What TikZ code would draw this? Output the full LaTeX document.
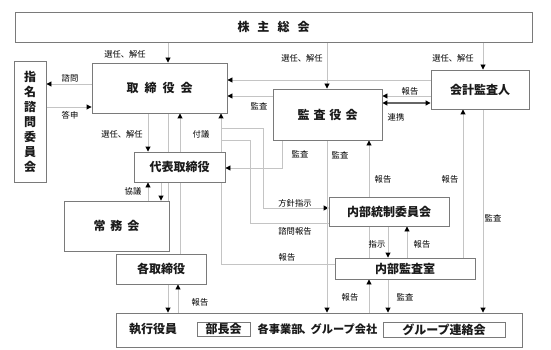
\documentclass[tikz,border=0pt]{standalone}
\usepackage{fontspec}
\setmainfont{Noto Sans CJK JP}
\usetikzlibrary{arrows.meta}
\pgfdeclarelayer{bg}
\pgfsetlayers{bg,main}
\definecolor{lncol}{HTML}{C4C4C4}
\definecolor{bdcol}{HTML}{7A7A7A}
\definecolor{txcol}{HTML}{1A1A1A}
\begin{document}
\begin{tikzpicture}[x=1pt,y=-1pt,
  box/.style={draw=bdcol,line width=0.9pt,fill=white,inner sep=0pt,text=txcol,
    font=\fontsize{12}{14}\selectfont\bfseries},
  inbox/.style={draw=bdcol,line width=0.8pt,fill=white,inner sep=0pt,text=txcol,
    font=\fontsize{12}{14}\selectfont\bfseries},
  plain/.style={inner sep=0pt,text=txcol,font=\fontsize{12}{14}\selectfont\bfseries},
  lbl/.style={inner sep=0pt,text=black,font=\fontsize{8.3}{10}\selectfont},
  ln/.style={draw=lncol,line width=0.9pt},
  arr/.style={ln,-{Triangle[length=5pt,width=5pt,color=black]}},
  darr/.style={draw=gray!80!black,line width=1.3pt,{Triangle[length=5pt,width=5pt,color=black]}-{Triangle[length=5pt,width=5pt,color=black]}}
]
\useasboundingbox (0,0) rectangle (551,350);
\begin{pgfonlayer}{bg}
\fill[white] (0,0) rectangle (551,350);
\end{pgfonlayer}

% boxes
\node[box,minimum width=517pt,minimum height=30pt] (kabu) at (273.5,27) {株\hspace{8pt}主\hspace{8pt}総\hspace{8pt}会};
\node[box,minimum width=32pt,minimum height=121pt,align=center,
  font=\fontsize{12}{15}\selectfont\bfseries] (shimei) at (30,121.5) {指\\名\\諮\\問\\委\\員\\会};
\node[box,minimum width=135pt,minimum height=50pt] (tor) at (159.5,88) {取\hspace{6pt}締\hspace{6pt}役\hspace{6pt}会};
\node[box,minimum width=91pt,minimum height=30pt] (dai) at (179.5,167) {代表取締役};
\node[box,minimum width=105pt,minimum height=50pt] (jomu) at (116.5,226) {常\hspace{5pt}務\hspace{5pt}会};
\node[box,minimum width=90pt,minimum height=30pt] (kaku) at (161,269) {各取締役};
\node[box,minimum width=406pt,minimum height=34pt] (exec) at (319,330) {};
\node[inbox,minimum width=53pt,minimum height=14pt] (bucho) at (223.5,329) {部長会};
\node[inbox,minimum width=122pt,minimum height=15pt] (grp) at (444,329.5) {グループ連絡会};
\node[plain] (shikko) at (153,329) {執行役員};
\node[plain,font=\fontsize{11.2}{13}\selectfont\bfseries] (jigyo) at (317.5,329) {各事業部\kern-1.5pt、\kern-1.5pt グループ会社};
\node[box,minimum width=109pt,minimum height=51pt] (kansa) at (327.5,114.5) {監\hspace{4pt}査\hspace{4pt}役\hspace{4pt}会};
\node[box,minimum width=98pt,minimum height=39pt] (kaikei) at (480,89.5) {会計監査人};
\node[box,minimum width=120pt,minimum height=29pt] (naibu) at (389,211.5) {内部統制委員会};
\node[box,minimum width=140pt,minimum height=21pt] (naikan) at (405,268.5) {内部監査室};

% helper coordinates
\foreach \v in {148,161,168,178,180,221,250,263,282,327,369,388,407,463,483}
  \coordinate (x\v) at (\v,0);
\foreach \v in {80,84,96,103,107,168,208,223,264}
  \coordinate (y\v) at (0,\v);
\coordinate (j1) at (221,128);
\coordinate (j2) at (221,140);

\begin{pgfonlayer}{bg}
\draw[arr] (kabu.south -| x168) -- (tor.north -| x168);
\draw[arr] (kabu.south -| x327) -- (kansa.north -| x327);
\draw[arr] (kabu.south -| x483) -- (kaikei.north -| x483);
\draw[arr] (tor.west |- y84) -- (shimei.east |- y84);
\draw[arr] (shimei.east |- y107) -- (tor.west |- y107);
\draw[arr] (tor.south -| x148) -- (dai.north -| x148);
\draw[ln] (tor.south -| x168) -- (jomu.north -| x168);
\draw[arr] (kaku.north -| x180) -- (tor.south -| x180);
\draw[arr] (dai.south -| x161) -- (jomu.north -| x161);
\draw[arr] (jomu.north -| x148) -- (dai.south -| x148);
\draw[arr] (naikan.west |- y264) -| (tor.south -| x221);
\draw[arr] (j1) -| (x263 |- y208) -- (naibu.west |- y208);
\draw[ln] (naibu.west |- y223) -| (x250 |- j2) -- (j2);
\draw[arr] (kaikei.west |- y80) -- (tor.east |- y80);
\draw[arr] (kansa.west |- y96) -- (tor.east |- y96);
\draw[arr] (kaikei.west |- y96) -- (kansa.east |- y96);
\draw[darr] (kansa.east |- y103) -- (kaikei.west |- y103);
\draw[arr] (kansa.south -| x282) |- (dai.east |- y168);
\draw[arr] (kansa.south -| x327) -- (exec.north -| x327);
\draw[arr] (naikan.north -| x369) -- (kansa.south -| x369);
\draw[arr] (naikan.north -| x463) -- (kaikei.south -| x463);
\draw[arr] (kaikei.south -| x483) -- (exec.north -| x483);
\draw[arr] (naibu.south -| x388) -- (naikan.north -| x388);
\draw[arr] (naikan.north -| x407) -- (naibu.south -| x407);
\draw[arr] (naikan.south -| x388) -- (exec.north -| x388);
\draw[arr] (exec.north -| x369) -- (naikan.south -| x369);
\draw[arr] (kaku.south -| x168) -- (exec.north -| x168);
\draw[arr] (exec.north -| x178) -- (kaku.south -| x178);
\end{pgfonlayer}

% labels
\node[lbl] (l1) at (125,54) {選任、解任};
\node[lbl] (l2) at (302,58) {選任、解任};
\node[lbl] (l3) at (453,58) {選任、解任};
\node[lbl] (l4) at (70,78) {諮問};
\node[lbl] (l5) at (70,115) {答申};
\node[lbl] (l6) at (122,134) {選任、解任};
\node[lbl] (l7) at (201,134) {付議};
\node[lbl] (l8) at (133,191) {協議};
\node[lbl] (l9) at (259,106) {監査};
\node[lbl] (l10) at (410,91) {報告};
\node[lbl] (l11) at (396,117) {連携};
\node[lbl] (l12) at (300,154) {監査};
\node[lbl] (l13) at (340,155) {監査};
\node[lbl] (l14) at (383,179) {報告};
\node[lbl] (l15) at (450,179) {報告};
\node[lbl] (l16) at (295,203) {方針指示};
\node[lbl] (l17) at (295,231) {諮問報告};
\node[lbl] (l18) at (287,257) {報告};
\node[lbl] (l19) at (493,218) {監査};
\node[lbl] (l20) at (377,244) {指示};
\node[lbl] (l21) at (422,244) {報告};
\node[lbl] (l22) at (350,297) {報告};
\node[lbl] (l23) at (405,297) {監査};
\node[lbl] (l24) at (200,302) {報告};
\end{tikzpicture}
\end{document}
